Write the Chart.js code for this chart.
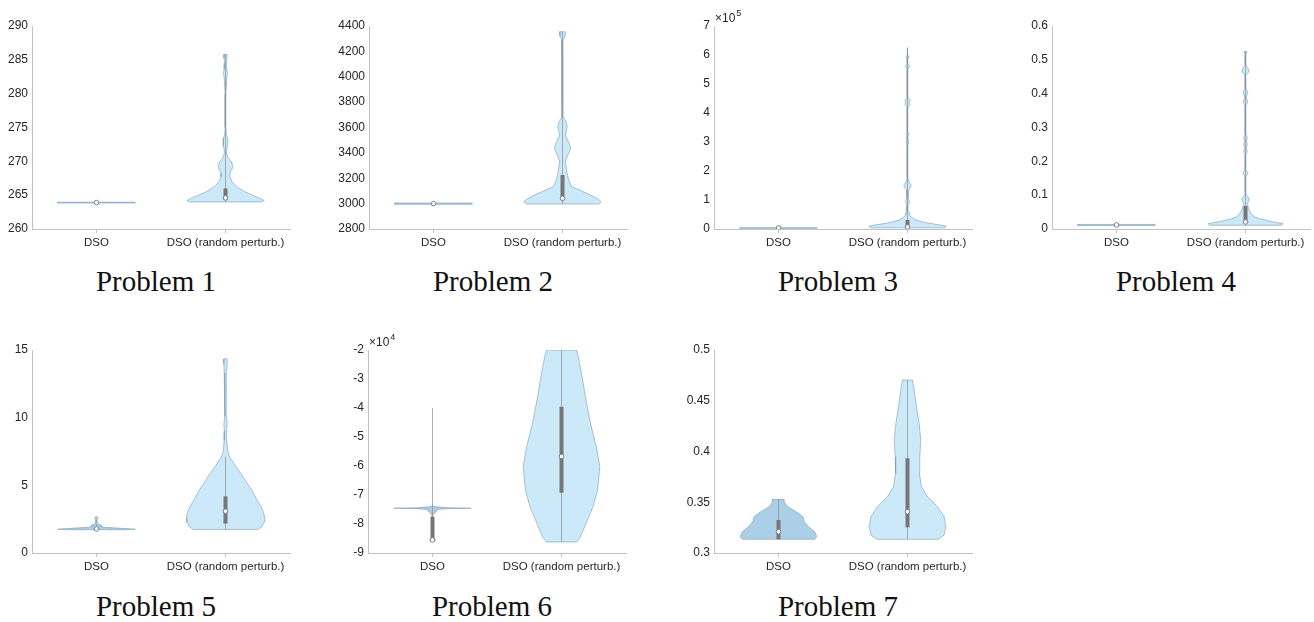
<!DOCTYPE html>
<html>
<head>
<meta charset="utf-8">
<script src="https://cdn.jsdelivr.net/npm/chart.js@4.4.0/dist/chart.umd.min.js"></script>
<style>
html, body { margin: 0; padding: 0; background: #fff; overflow: hidden; }
#wrap { position: relative; width: 1314px; height: 622px; }
#wrap canvas { position: absolute; }
.cap { position: absolute; width: 200px; text-align: center; font-family: "Liberation Serif", "Times New Roman", serif; font-size: 29px; line-height: 29px; color: #111; }
</style>
</head>
<body>
<div id="wrap"></div>
<script>
// ===== Data =====
const categories = ['DSO', 'DSO (random perturb.)'];
const titles = ['Problem 1', 'Problem 2', 'Problem 3', 'Problem 4', 'Problem 5', 'Problem 6', 'Problem 7'];

// box stats: [whisker low, q1, median, q3, whisker high]
const p1Ticks = [260, 265, 270, 275, 280, 285, 290];
const p1DsoVals = [263.83, 263.97];
const p1DsoDens = [0.30, 0.30];
const p1DsoBox = [263.9, 263.9, 263.9, 263.9, 263.9];
const p1PertVals = [264.0, 264.2, 264.5, 265.0, 265.5, 266.2, 267.0, 267.7, 268.3, 268.8, 269.3, 269.9, 270.4, 270.8, 271.5, 272.3, 272.8, 273.4, 274.0, 275.0, 280.0, 282.3, 283.0, 283.7, 284.5, 285.3, 285.8];
const p1PertDens = [0.28, 0.30, 0.27, 0.21, 0.15, 0.09, 0.05, 0.035, 0.035, 0.05, 0.056, 0.048, 0.025, 0.013, 0.008, 0.016, 0.018, 0.016, 0.006, 0.003, 0.003, 0.01, 0.016, 0.01, 0.006, 0.012, 0.012];
const p1PertBox = [264.0, 264.3, 264.6, 266.0, 285.8];

const p2Ticks = [2800, 3000, 3200, 3400, 3600, 3800, 4000, 4200, 4400];
const p2DsoVals = [2995, 3005];
const p2DsoDens = [0.30, 0.30];
const p2DsoBox = [3000, 3000, 3000, 3000, 3000];
const p2PertVals = [2997, 3015, 3040, 3081, 3134, 3180, 3239, 3290, 3330, 3380, 3420, 3448, 3490, 3541, 3580, 3612, 3650, 3685, 3750, 4250, 4290, 4320, 4355];
const p2PertDens = [0.28, 0.30, 0.27, 0.19, 0.07, 0.05, 0.036, 0.028, 0.022, 0.04, 0.058, 0.063, 0.045, 0.022, 0.032, 0.036, 0.025, 0.005, 0.004, 0.004, 0.006, 0.02, 0.022];
const p2PertBox = [2997, 3028, 3042, 3225, 4355];

const p3Ticks = [0, 100000, 200000, 300000, 400000, 500000, 600000, 700000];
const p3DsoVals = [2500, 4500];
const p3DsoDens = [0.30, 0.30];
const p3DsoBox = [3500, 3500, 3500, 3500, 3500];
const p3PertVals = [4000, 10000, 16000, 22000, 30000, 38000, 45000, 50000, 55000, 62000, 80000, 95000, 105000, 135000, 150000, 165000, 180000, 290000, 300000, 310000, 320000, 328000, 336000, 420000, 430000, 437000, 444000, 452000, 550000, 562000, 572000, 585000, 592000, 600000, 625000];
const p3PertDens = [0.29, 0.30, 0.22, 0.14, 0.07, 0.04, 0.02, 0.012, 0.016, 0.006, 0.004, 0.016, 0.004, 0.008, 0.03, 0.008, 0.003, 0.003, 0.012, 0.004, 0.004, 0.012, 0.003, 0.003, 0.02, 0.012, 0.02, 0.003, 0.003, 0.016, 0.003, 0.003, 0.012, 0.003, 0.003];
const p3PertBox = [4000, 6000, 7000, 31000, 625000];

const p4Ticks = [0, 0.1, 0.2, 0.3, 0.4, 0.5, 0.6];
const p4DsoVals = [0.0105, 0.0135];
const p4DsoDens = [0.30, 0.30];
const p4DsoBox = [0.012, 0.012, 0.012, 0.012, 0.012];
const p4PertVals = [0.011, 0.016, 0.022, 0.03, 0.036, 0.045, 0.056, 0.066, 0.075, 0.082, 0.088, 0.094, 0.1, 0.11, 0.155, 0.165, 0.175, 0.22, 0.23, 0.24, 0.25, 0.26, 0.27, 0.28, 0.365, 0.375, 0.39, 0.405, 0.415, 0.455, 0.465, 0.475, 0.485, 0.515, 0.525];
const p4PertDens = [0.28, 0.29, 0.2, 0.11, 0.07, 0.045, 0.03, 0.02, 0.015, 0.025, 0.03, 0.022, 0.006, 0.003, 0.003, 0.02, 0.003, 0.003, 0.014, 0.006, 0.014, 0.008, 0.014, 0.003, 0.003, 0.018, 0.006, 0.018, 0.003, 0.003, 0.028, 0.02, 0.003, 0.003, 0.012];
const p4PertBox = [0.011, 0.02, 0.021, 0.068, 0.525];

const p5Ticks = [0, 5, 10, 15];
const p5DsoVals = [1.72, 1.76, 1.82, 1.9, 1.98, 2.05, 2.12, 2.25, 2.5, 2.6, 2.68];
const p5DsoDens = [0.22, 0.30, 0.2, 0.06, 0.035, 0.04, 0.02, 0.004, 0.004, 0.015, 0.004];
const p5DsoBox = [1.72, 1.75, 1.78, 1.85, 2.12];
const p5PertVals = [1.74, 1.93, 2.3, 2.55, 3.0, 3.4, 4.0, 4.63, 5.2, 5.86, 6.4, 6.84, 7.08, 7.5, 8.3, 9.0, 9.55, 10.1, 11.0, 12.5, 13.3, 14.0, 14.35];
const p5PertDens = [0.25, 0.28, 0.3, 0.305, 0.295, 0.277, 0.24, 0.205, 0.165, 0.12, 0.08, 0.05, 0.032, 0.018, 0.01, 0.008, 0.013, 0.008, 0.004, 0.004, 0.01, 0.013, 0.013];
const p5PertBox = [1.74, 2.18, 3.09, 4.19, 7.1];

const p6Ticks = [-90000, -80000, -70000, -60000, -50000, -40000, -30000, -20000];
const p6DsoVals = [-85900, -85500, -85000, -84000, -77000, -76000, -75500, -75000, -74700, -74550, -74400, -74000, -73500];
const p6DsoDens = [0.01, 0.024, 0.01, 0.003, 0.003, 0.02, 0.036, 0.03, 0.12, 0.30, 0.12, 0.01, 0.003];
const p6DsoBox = [-85900, -85500, -85500, -77500, -40000];
const p6PertVals = [-86200, -84400, -80900, -74000, -68300, -60200, -53300, -45300, -37200, -28000, -22200, -20000];
const p6PertDens = [0.12, 0.147, 0.18, 0.245, 0.28, 0.297, 0.27, 0.225, 0.19, 0.155, 0.13, 0.116];
const p6PertBox = [-86200, -69200, -56700, -39600, -20000];

const p7Ticks = [0.3, 0.35, 0.4, 0.45, 0.5];
const p7DsoVals = [0.3135, 0.3161, 0.321, 0.3259, 0.3308, 0.3358, 0.3407, 0.3456, 0.3506, 0.3529];
const p7DsoDens = [0.28, 0.297, 0.28, 0.233, 0.2, 0.19, 0.137, 0.072, 0.044, 0.044];
const p7DsoBox = [0.3135, 0.3135, 0.321, 0.3325, 0.3529];
const p7PertVals = [0.3135, 0.3177, 0.3259, 0.3358, 0.3456, 0.3555, 0.3653, 0.3785, 0.3949, 0.4113, 0.4277, 0.4441, 0.4606, 0.4704];
const p7PertDens = [0.238, 0.284, 0.297, 0.284, 0.233, 0.155, 0.109, 0.092, 0.095, 0.103, 0.09, 0.07, 0.052, 0.039];
const p7PertBox = [0.3135, 0.3253, 0.3407, 0.3933, 0.4704];

// powers of ten shown as "x10^n" above the axis (0 = none)
const exponents = [0, 0, 5, 0, 0, 4, 0];

const panels = [
    { ticks: p1Ticks, violins: [[p1DsoVals, p1DsoDens, p1DsoBox], [p1PertVals, p1PertDens, p1PertBox]] },
    { ticks: p2Ticks, violins: [[p2DsoVals, p2DsoDens, p2DsoBox], [p2PertVals, p2PertDens, p2PertBox]] },
    { ticks: p3Ticks, violins: [[p3DsoVals, p3DsoDens, p3DsoBox], [p3PertVals, p3PertDens, p3PertBox]] },
    { ticks: p4Ticks, violins: [[p4DsoVals, p4DsoDens, p4DsoBox], [p4PertVals, p4PertDens, p4PertBox]] },
    { ticks: p5Ticks, violins: [[p5DsoVals, p5DsoDens, p5DsoBox], [p5PertVals, p5PertDens, p5PertBox]] },
    { ticks: p6Ticks, violins: [[p6DsoVals, p6DsoDens, p6DsoBox], [p6PertVals, p6PertDens, p6PertBox]] },
    { ticks: p7Ticks, violins: [[p7DsoVals, p7DsoDens, p7DsoBox], [p7PertVals, p7PertDens, p7PertBox]] }
];

// ===== Layout / styles =====
const axisOrigins = [[32, 26], [369, 26], [714, 26], [1052, 26], [32, 350], [368, 350], [714, 350]];
const CHART_W = 258, CHART_H = 203, Y_W = 40, X_H = 30, PAD_T = 26, PAD_R = 8;
const fillColors = ['rgb(172,207,232)', 'rgb(203,233,248)'];
const edgeColor = 'rgba(115,150,178,0.7)';
const boxColor = 'rgb(118,118,118)';
const whiskerColor = 'rgba(140,140,140,0.7)';
const axisColor = '#c2c2c2';
const textColor = '#262626';
const sansFont = '"Liberation Sans", Arial, Helvetica, sans-serif';

function violinOutline(c, vals, dens) {
    const right = vals.map((v, i) => ({ x: c + dens[i], y: v }));
    const left = vals.map((v, i) => ({ x: c - dens[i], y: v })).reverse();
    return [...right, ...left, right[0]];
}

function fmtTick(v, exp) {
    const s = v / Math.pow(10, exp);
    return String(Math.round(s * 10000) / 10000);
}

// ===== Plugin: x10^n label above the y axis =====
const exponentLabel = {
    id: 'exponentLabel',
    afterDraw(chart, args, opts) {
        if (!opts.exp) return;
        const { ctx, chartArea } = chart;
        ctx.save();
        ctx.fillStyle = textColor;
        ctx.textBaseline = 'middle';
        ctx.font = '12px ' + sansFont;
        const x = chartArea.left + 1;
        const y = chartArea.top - 7;
        ctx.fillText('\u00d710', x, y);
        const w = ctx.measureText('\u00d710').width;
        ctx.font = '9px ' + sansFont;
        ctx.fillText(String(opts.exp), x + w + 1, y - 5);
        ctx.restore();
    }
};

// ===== Build charts =====
const wrap = document.getElementById('wrap');

panels.forEach((p, k) => {
    const [ax, ay] = axisOrigins[k];
    const canvas = document.createElement('canvas');
    canvas.width = Y_W + CHART_W + PAD_R;
    canvas.height = PAD_T + CHART_H + X_H;
    canvas.style.left = (ax - Y_W) + 'px';
    canvas.style.top = (ay - PAD_T) + 'px';
    wrap.appendChild(canvas);

    const cap = document.createElement('div');
    cap.className = 'cap';
    cap.textContent = titles[k];
    cap.style.left = (ax + 124 - 100) + 'px';
    cap.style.top = (ay < 100 ? 267 : 592) + 'px';
    wrap.appendChild(cap);

    const datasets = [];
    p.violins.forEach(([vals, dens, box], i) => {
        const c = i + 1;
        datasets.push({
            data: violinOutline(c, vals, dens),
            fill: 'shape',
            backgroundColor: fillColors[i],
            borderColor: edgeColor,
            borderWidth: 0.8,
            pointRadius: 0,
            tension: 0,
            order: 4
        });
        if (box[4] > box[0]) {
            datasets.push({
                data: [{ x: c, y: box[0] }, { x: c, y: box[4] }],
                borderColor: whiskerColor,
                borderWidth: 1,
                pointRadius: 0,
                fill: false,
                order: 3
            });
        }
        if (box[3] > box[1]) {
            datasets.push({
                data: [{ x: c, y: box[1] }, { x: c, y: box[3] }],
                borderColor: boxColor,
                borderWidth: 4,
                borderCapStyle: 'butt',
                pointRadius: 0,
                fill: false,
                order: 2
            });
        }
        datasets.push({
            data: [{ x: c, y: box[2] }],
            showLine: false,
            pointRadius: 2.3,
            pointBackgroundColor: '#ffffff',
            pointBorderColor: 'rgb(128,128,128)',
            pointBorderWidth: 1,
            order: 1
        });
    });

    new Chart(canvas.getContext('2d'), {
        type: 'line',
        data: { datasets },
        options: {
            responsive: false,
            animation: false,
            devicePixelRatio: 1,
            layout: { padding: { top: PAD_T, right: PAD_R, left: 0, bottom: 0 } },
            plugins: {
                legend: { display: false },
                tooltip: { enabled: false },
                exponentLabel: { exp: exponents[k] }
            },
            scales: {
                x: {
                    type: 'linear',
                    min: 0.5,
                    max: 2.5,
                    afterBuildTicks: s => { s.ticks = [{ value: 1 }, { value: 2 }]; },
                    afterFit: s => { s.height = X_H; },
                    grid: { display: true, drawOnChartArea: false, drawTicks: true, tickLength: 4, color: axisColor },
                    border: { display: true, color: axisColor },
                    ticks: {
                        callback: (v, i) => categories[i],
                        font: { family: sansFont, size: 11.5 },
                        color: textColor,
                        padding: 3,
                        maxRotation: 0,
                        autoSkip: false
                    }
                },
                y: {
                    type: 'linear',
                    min: p.ticks[0],
                    max: p.ticks[p.ticks.length - 1],
                    afterBuildTicks: s => { s.ticks = p.ticks.map(v => ({ value: v })); },
                    afterFit: s => { s.width = Y_W; },
                    grid: { display: false, drawTicks: false },
                    border: { display: true, color: axisColor },
                    ticks: {
                        callback: v => fmtTick(v, exponents[k]),
                        font: { family: sansFont, size: 12 },
                        color: textColor,
                        padding: 4,
                        autoSkip: false
                    }
                }
            }
        },
        plugins: [exponentLabel]
    });
});
</script>
</body>
</html>
